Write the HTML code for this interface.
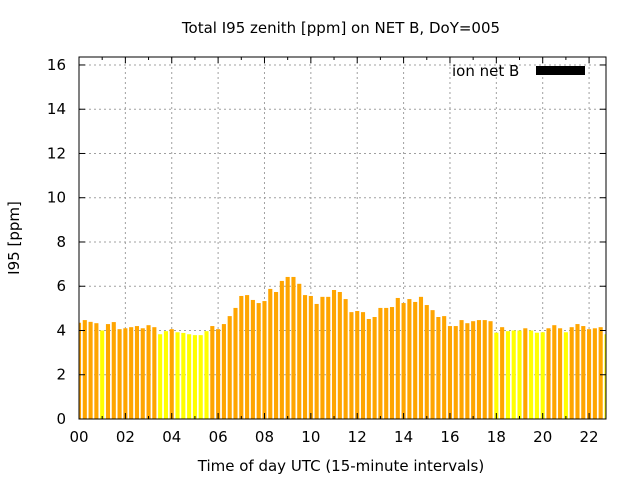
<!DOCTYPE html>
<html><head><meta charset="utf-8"><style>
body{margin:0;background:#fff}
svg{display:block;font-family:"DejaVu Sans","Liberation Sans",sans-serif}
</style></head><body>
<svg id="chart" width="640" height="480" viewBox="0 0 640 480" xmlns="http://www.w3.org/2000/svg">
<rect width="640" height="480" fill="#fff"/>
<text x="341" y="33" font-size="15" text-anchor="middle">Total I95 zenith [ppm] on NET B, DoY=005</text>
<text x="341" y="471" font-size="15" text-anchor="middle">Time of day UTC (15-minute intervals)</text>
<text transform="translate(19,238) rotate(-90)" font-size="15" text-anchor="middle">I95 [ppm]</text>
<g id="grid"></g>
<defs><clipPath id="pc"><rect x="79" y="57" width="527" height="362"/></clipPath></defs>
<g id="bars" clip-path="url(#pc)"></g>
<g id="axes"></g>
<g>
<text x="452" y="76" font-size="15">ion net B</text>
<rect x="536" y="66" width="49" height="9" fill="#000"/>
</g>
<rect x="79" y="57" width="527" height="362" fill="none" stroke="#000" stroke-width="1"/>
</svg>
<script>
const values = [4.35,4.47,4.39,4.33,4.0,4.29,4.38,4.06,4.1,4.15,4.2,4.1,4.24,4.15,3.83,3.97,4.06,3.92,3.89,3.83,3.79,3.79,3.97,4.2,4.06,4.29,4.65,5.02,5.56,5.6,5.38,5.24,5.33,5.88,5.74,6.24,6.42,6.42,6.11,5.6,5.56,5.2,5.52,5.52,5.83,5.74,5.42,4.83,4.88,4.83,4.52,4.61,5.02,5.02,5.06,5.47,5.24,5.42,5.29,5.52,5.15,4.92,4.61,4.65,4.2,4.2,4.47,4.33,4.42,4.47,4.47,4.42,3.9,4.15,3.97,4.0,4.0,4.1,4.0,3.9,3.92,4.1,4.24,4.1,3.92,4.15,4.29,4.2,4.06,4.1,4.15,3.83];
const xTicks = ["00","02","04","06","08","10","12","14","16","18","20","22"];
const yTicks = [0,2,4,6,8,10,12,14,16];
const threshold = 4.02;
const NS="http://www.w3.org/2000/svg";
const X0=79,X1=606,Y0=419,Y1=57,XMAX=22.73,YMAX=16.36;
const xs=h=>X0+h/XMAX*(X1-X0);
const ys=v=>Y0-v/YMAX*(Y0-Y1);
const grid=document.getElementById('grid'),axes=document.getElementById('axes'),bars=document.getElementById('bars');
function mk(tag,attrs,parent){const e=document.createElementNS(NS,tag);for(const k in attrs)e.setAttribute(k,attrs[k]);parent.appendChild(e);return e;}
yTicks.forEach(v=>{
  const y=ys(v);
  if(v>0){const g=mk('line',{x1:X0,x2:X1,y1:y,y2:y,stroke:'#a0a0a0','stroke-dasharray':'2,3'},grid);
  
  }
  mk('line',{x1:X0,x2:X0+6,y1:y,y2:y,stroke:'#000'},axes);
  mk('line',{x1:X1,x2:X1-6,y1:y,y2:y,stroke:'#000'},axes);
  const t=mk('text',{x:X0-13,y:y+5,'font-size':15,'text-anchor':'end'},axes);
  t.textContent=v;
  
  
});
xTicks.forEach(s=>{
  const x=xs(parseInt(s,10));
  if(parseInt(s,10)>0){const g=mk('line',{x1:x,x2:x,y1:Y0,y2:Y1,stroke:'#a0a0a0','stroke-dasharray':'2,3'},grid);
  
  }
  mk('line',{x1:x,x2:x,y1:Y0,y2:Y0-6,stroke:'#000'},axes);
  mk('line',{x1:x,x2:x,y1:Y1,y2:Y1+6,stroke:'#000'},axes);
  const t=mk('text',{x:x,y:Y0+23,'font-size':15,'text-anchor':'middle'},axes);
  t.textContent=s;
  
  
});
for(let h=1;h<23;h+=2){const x=xs(h);mk('line',{x1:x,x2:x,y1:Y0,y2:Y0-3,stroke:'#000'},axes);mk('line',{x1:x,x2:x,y1:Y1,y2:Y1+3,stroke:'#000'},axes);}
values.forEach((v,i)=>{
  const c=xs(i*0.25),w=4.1;
  const r=mk('rect',{x:c-w/2,y:ys(v),width:w,height:Y0-ys(v),fill:v<threshold?'#ffff00':'#ffa500'},bars);
  
  
});
</script>
</body></html>
